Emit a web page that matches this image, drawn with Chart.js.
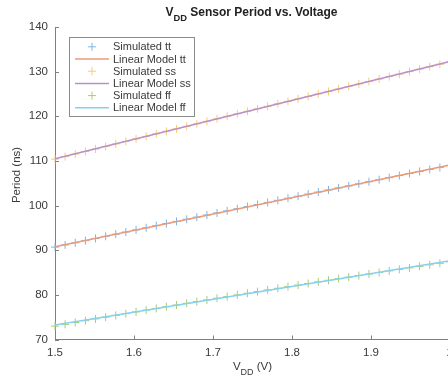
<!DOCTYPE html>
<html>
<head>
<meta charset="utf-8">
<script src="https://cdn.jsdelivr.net/npm/chart.js@4.4.1/dist/chart.umd.min.js"></script>
<style>
  html,body{margin:0;padding:0;background:#fff;overflow:hidden;width:448px;height:381px}
  #wrap{position:relative;width:500px;height:381px}
</style>
</head>
<body>
<div id="wrap"><canvas id="chart" width="500" height="381"></canvas></div>
<script>
// supply voltage sweep (V), 40 points from 1.5 to 2.0
const vdd = [1.5000,1.5128,1.5256,1.5385,1.5513,1.5641,1.5769,1.5897,1.6026,1.6154,
             1.6282,1.6410,1.6538,1.6667,1.6795,1.6923,1.7051,1.7179,1.7308,1.7436,
             1.7564,1.7692,1.7821,1.7949,1.8077,1.8205,1.8333,1.8462,1.8590,1.8718,
             1.8846,1.8974,1.9103,1.9231,1.9359,1.9487,1.9615,1.9744,1.9872,2.0000];

// simulated periods (ns)
const simTT = [90.70,91.18,91.67,92.15,92.63,93.11,93.59,94.07,94.55,95.03,
               95.51,95.98,96.46,96.93,97.41,97.88,98.35,98.82,99.30,99.77,
               100.23,100.70,101.17,101.64,102.10,102.57,103.03,103.50,103.96,104.42,
               104.88,105.34,105.80,106.26,106.72,107.18,107.64,108.09,108.55,109.00];
const simSS = [110.40,110.97,111.54,112.11,112.67,113.24,113.81,114.37,114.94,115.50,
               116.07,116.63,117.19,117.76,118.32,118.88,119.44,120.00,120.56,121.12,
               121.68,122.24,122.80,123.35,123.91,124.47,125.02,125.58,126.13,126.69,
               127.24,127.79,128.35,128.90,129.45,130.00,130.55,131.10,131.65,132.20];
const simFF = [73.00,73.40,73.81,74.21,74.61,75.00,75.40,75.79,76.18,76.57,
               76.96,77.34,77.73,78.11,78.49,78.87,79.25,79.62,79.99,80.37,
               80.73,81.10,81.47,81.83,82.19,82.55,82.91,83.27,83.62,83.97,
               84.33,84.67,85.02,85.37,85.71,86.05,86.39,86.73,87.07,87.40];

// linear model fits, at the sweep end points
const linVdd = [1.5, 2.0];
const linTT = [90.80, 109.10];
const linSS = [110.47, 132.27];
const linFF = [73.23, 87.63];

const xTicks = [1.5, 1.6, 1.7, 1.8, 1.9, 2.0];
const yTicks = [70, 80, 90, 100, 110, 120, 130, 140];

const FONT = '"Liberation Sans", Arial, Helvetica, sans-serif';
const TXT = '#3a3a3a';
const AXIS = '#808080';

const pts = (xs, ys) => xs.map((x, i) => ({ x, y: ys[i] }));

function simSet(label, ys, color){
  return {
    label, data: pts(vdd, ys), showLine: false, order: 2, clip: 8,
    pointStyle: 'cross', pointRadius: 4, pointHoverRadius: 4,
    pointBorderWidth: 1, borderColor: color, backgroundColor: color
  };
}
function linSet(label, ys, color){
  return {
    label, data: pts(linVdd, ys), showLine: true, order: 1, clip: 8,
    pointRadius: 0, borderWidth: 1.5, borderColor: color, backgroundColor: color
  };
}

// draw text runs with optional subscripts, centred on x
function runs(ctx, parts, x, y, size, bold){
  const f = s => (bold ? 'bold ' : '') + s + 'px ' + FONT;
  let total = 0;
  parts.forEach(p => { ctx.font = f(p.sub ? size * 0.78 : size); total += ctx.measureText(p.t).width; });
  let cx = x - total / 2;
  ctx.textAlign = 'left';
  ctx.textBaseline = 'alphabetic';
  parts.forEach(p => {
    ctx.font = f(p.sub ? size * 0.78 : size);
    ctx.fillText(p.t, cx, p.sub ? y + size * 0.45 : y);
    cx += ctx.measureText(p.t).width;
  });
}

const decor = {
  id: 'decor',
  afterDraw(chart){
    const ctx = chart.ctx;
    const xs = chart.scales.x, ys = chart.scales.y;
    const area = chart.chartArea;
    ctx.save();

    // inward tick marks, MATLAB style
    ctx.strokeStyle = AXIS;
    ctx.lineWidth = 1;
    ctx.beginPath();
    xTicks.forEach(v => {
      const px = Math.round(xs.getPixelForValue(v)) + 0.5;
      ctx.moveTo(px, area.bottom); ctx.lineTo(px, area.bottom - 4);
    });
    yTicks.forEach(v => {
      const py = Math.round(ys.getPixelForValue(v)) + 0.5;
      ctx.moveTo(area.left, py); ctx.lineTo(area.left + 4, py);
    });
    ctx.stroke();

    // title + axis labels
    const mid = (area.left + area.right) / 2;
    ctx.fillStyle = '#222';
    runs(ctx, [{t:'V'},{t:'DD',sub:true},{t:' Sensor Period vs. Voltage'}], mid - 1, 16, 12, true);
    ctx.fillStyle = TXT;
    runs(ctx, [{t:'V'},{t:'DD',sub:true},{t:' (V)'}], mid, 370, 11.5, false);
    ctx.save();
    ctx.translate(17, 175);
    ctx.rotate(-Math.PI / 2);
    ctx.font = '11.5px ' + FONT;
    ctx.textAlign = 'center';
    ctx.textBaseline = 'middle';
    ctx.fillText('Period (ns)', 0, 0);
    ctx.restore();

    // legend box
    const bx = 69.5, by = 37.5, bw = 125, bh = 79;
    ctx.fillStyle = '#fff';
    ctx.fillRect(bx, by, bw, bh);
    ctx.strokeStyle = '#8a8a8a';
    ctx.strokeRect(bx, by, bw, bh);
    chart.data.datasets.forEach((ds, i) => {
      const ry = 46.8 + i * 12.2;
      ctx.strokeStyle = ds.borderColor;
      ctx.beginPath();
      if(ds.showLine){
        ctx.lineWidth = 1.5;
        ctx.moveTo(75, ry); ctx.lineTo(109, ry);
      } else {
        ctx.lineWidth = 1;
        ctx.moveTo(92 - 4, ry); ctx.lineTo(92 + 4, ry);
        ctx.moveTo(92, ry - 4); ctx.lineTo(92, ry + 4);
      }
      ctx.stroke();
      ctx.fillStyle = TXT;
      ctx.font = '11px ' + FONT;
      ctx.textAlign = 'left';
      ctx.textBaseline = 'middle';
      ctx.fillText(ds.label, 113, ry + 0.5);
    });
    ctx.restore();
  }
};

new Chart(document.getElementById('chart'), {
  type: 'scatter',
  data: {
    datasets: [
      simSet('Simulated tt', simTT, '#7fb5e3'),
      linSet('Linear Model tt', linTT, '#ec9a78'),
      simSet('Simulated ss', simSS, '#f4cd72'),
      linSet('Linear Model ss', linSS, '#bb8fca'),
      simSet('Simulated ff', simFF, '#a6cd78'),
      linSet('Linear Model ff', linFF, '#86d1f0')
    ]
  },
  options: {
    responsive: false,
    animation: false,
    events: [],
    layout: { padding: { left: 0, right: 50, top: 27, bottom: 0 } },
    plugins: { legend: { display: false }, title: { display: false }, tooltip: { enabled: false } },
    scales: {
      x: {
        type: 'linear', min: 1.5, max: 2.0,
        afterFit: s => { s.height = 41.5; },
        afterBuildTicks: s => { s.ticks = xTicks.map(v => ({ value: v })); },
        grid: { display: false, drawTicks: false },
        border: { display: true, color: AXIS, width: 1 },
        ticks: {
          padding: 6, color: TXT, font: { family: FONT, size: 11.5 },
          callback: v => (v === 2 ? '2' : v.toFixed(1))
        }
      },
      y: {
        type: 'linear', min: 70, max: 140,
        afterFit: s => { s.width = 55; },
        afterBuildTicks: s => { s.ticks = yTicks.map(v => ({ value: v })); },
        grid: { display: false, drawTicks: false },
        border: { display: true, color: AXIS, width: 1 },
        ticks: { padding: 7, color: TXT, font: { family: FONT, size: 11.5 } }
      }
    }
  },
  plugins: [decor]
});
</script>
</body>
</html>
